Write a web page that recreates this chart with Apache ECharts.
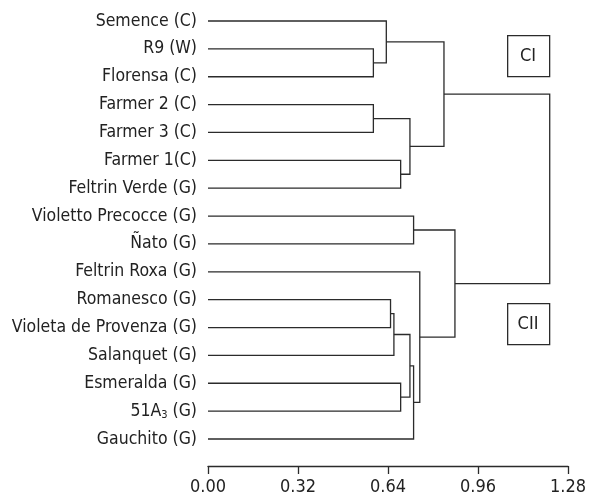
<!DOCTYPE html>
<html>
<head>
<meta charset="utf-8">
<script src="https://cdn.jsdelivr.net/npm/echarts@6/dist/echarts.min.js"></script>
<style>html,body{margin:0;padding:0;background:#fff}#c{width:590px;height:503px}</style>
</head>
<body>
<div id="c"></div>
<script>
// Leaves, top to bottom
var leaves = ['Semence (C)','R9 (W)','Florensa (C)','Farmer 2 (C)','Farmer 3 (C)','Farmer 1(C)','Feltrin Verde (G)',
  'Violetto Precocce (G)','Ñato (G)','Feltrin Roxa (G)','Romanesco (G)','Violeta de Provenza (G)','Salanquet (G)',
  'Esmeralda (G)','51A3 (G)','Gauchito (G)'];
// Linkage: child A, child B (leaf index < 16, else cluster id = 16 + row), merge height
var mergeA = [1, 3, 10, 0, 12, 5, 13, 17, 20, 24, 7, 9, 19, 26, 28];
var mergeB = [2, 4, 11, 16, 18, 6, 14, 21, 22, 15, 8, 25, 23, 27, 29];
var mergeH = [0.588, 0.588, 0.649, 0.634, 0.661, 0.685, 0.685, 0.718, 0.718, 0.731, 0.731, 0.753, 0.839, 0.878, 1.215];
var xTicks = [0, 0.32, 0.64, 0.96, 1.28];
var clusterLabels = ['CI', 'CII'];

var FONT = "'DejaVu Sans Condensed',sans-serif";
var n = leaves.length;
var nodeY = [], nodeH = [];
for (var i = 0; i < n; i++) { nodeY[i] = i; nodeH[i] = 0; }
var data = [];
for (var k = 0; k < mergeA.length; k++) {
  var a = mergeA[k], b = mergeB[k];
  nodeY[n + k] = (nodeY[a] + nodeY[b]) / 2;
  nodeH[n + k] = mergeH[k];
  data.push([nodeH[a], nodeY[a], mergeH[k], nodeY[b], nodeH[b]]);
}

var LINE = '#2b2b2b';
var chart = echarts.init(document.getElementById('c'), null, {renderer: 'canvas'});
chart.setOption({
  animation: false,
  grid: {left: 208, right: 22, top: 21, bottom: 64},
  xAxis: {
    type: 'value', min: xTicks[0], max: xTicks[xTicks.length - 1], interval: xTicks[1] - xTicks[0],
    position: 'bottom', offset: 27,
    axisLine: {show: true, onZero: false, lineStyle: {color: LINE, width: 1.3}},
    axisTick: {show: true, inside: false, length: 8, lineStyle: {color: LINE, width: 1.3}},
    splitLine: {show: false},
    axisLabel: {fontFamily: FONT, fontSize: 18, color: '#222', margin: 12,
      formatter: function (v) { return v.toFixed(2); }, showMaxLabel: true, showMinLabel: true}
  },
  yAxis: {
    type: 'value', inverse: true, min: 0, max: n - 1, interval: 1,
    axisLine: {show: false}, axisTick: {show: false}, splitLine: {show: false},
    axisLabel: {margin: 11, fontFamily: FONT, fontSize: 17.5, color: '#222',
      formatter: function (v) {
        var s = leaves[v];
        if (s === undefined) return '';
        if (s.indexOf('51A3') === 0) return '{a|51A}{s|3}{a|' + s.slice(4) + '}';
        return s;
      },
      rich: {a: {fontFamily: FONT, fontSize: 17.5, color: '#222'},
             s: {fontFamily: FONT, fontSize: 11, color: '#222', verticalAlign: 'bottom', padding: [9, 0, 0, 0]}}
    }
  },
  series: [{
    type: 'custom',
    data: data,
    encode: {x: [0, 2, 4], y: [1, 3]},
    renderItem: function (params, api) {
      var p1 = api.coord([api.value(0), api.value(1)]);
      var p2 = api.coord([api.value(2), api.value(1)]);
      var p3 = api.coord([api.value(2), api.value(3)]);
      var p4 = api.coord([api.value(4), api.value(3)]);
      return {type: 'polyline', shape: {points: [p1, p2, p3, p4]},
        style: {stroke: LINE, lineWidth: 1.3, fill: null}};
    }
  }],
  graphic: [
    {type: 'rect', left: 507, top: 35, shape: {width: 42, height: 41}, style: {stroke: LINE, lineWidth: 1.3, fill: '#fff'}},
    {type: 'text', x: 528, y: 56, style: {text: clusterLabels[0], font: '18px ' + FONT, fill: '#222', align: 'center', verticalAlign: 'middle'}},
    {type: 'rect', left: 507, top: 303, shape: {width: 42, height: 41}, style: {stroke: LINE, lineWidth: 1.3, fill: '#fff'}},
    {type: 'text', x: 528, y: 324, style: {text: clusterLabels[1], font: '18px ' + FONT, fill: '#222', align: 'center', verticalAlign: 'middle'}}
  ]
});
</script>
</body>
</html>
